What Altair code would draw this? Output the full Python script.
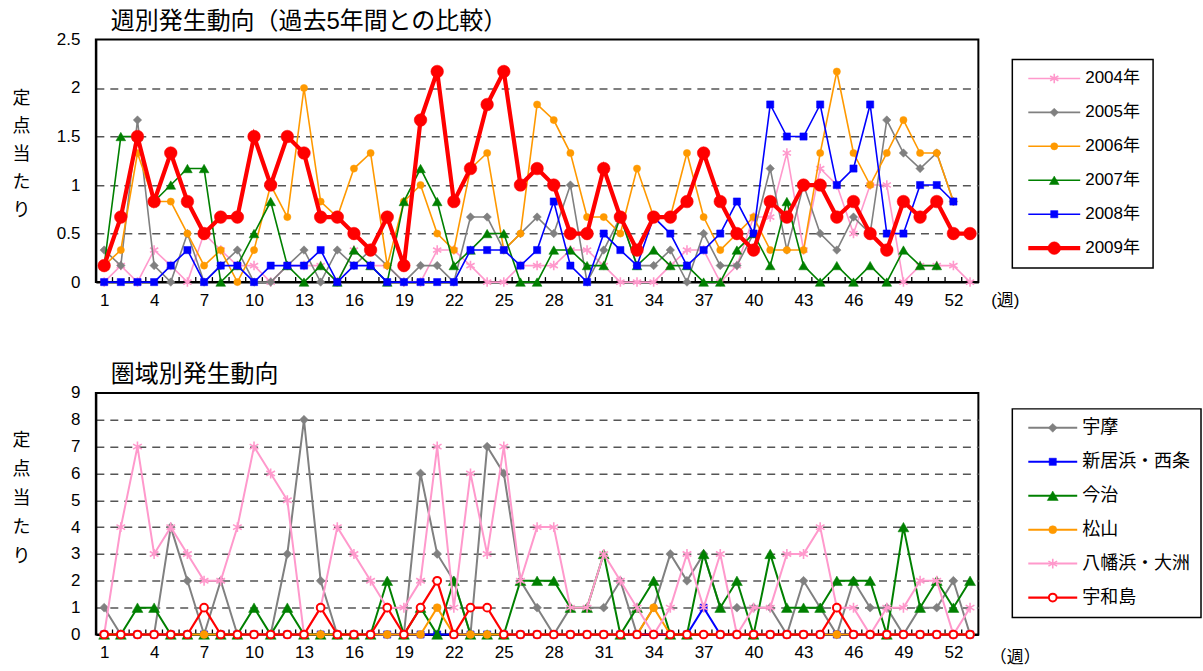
import altair as alt
import pandas as pd

WEEKS = list(range(1, 54))
LABEL_WEEKS = list(range(1, 53, 3))
BOUNDARIES = [w + 0.5 for w in WEEKS[:-1]]

# 週別発生動向: 定点当たり報告数 (2004-2009年)
Y2004 = [0, 0.17, 0, 0.33, 0.17, 0, 0.5, 0.33, 0.17, 0.17, 0, 0.17, 0.17, 0.17, 0,
         0.33, 0.17, 0.17, 0, 0, 0.33, 0.33, 0.17, 0, 0, 0.17, 0.17, 0.17, 0.33, 0.33,
         0.17, 0, 0, 0, 0.17, 0.33, 0.33, 0, 0.17, 0.67, 0.67, 1.33, 0.33, 1.17, 1.0,
         0.5, 1.0, 1.0, 0, 0.17, 0.17, 0.17, 0]
Y2005 = [0.33, 0.17, 1.67, 0.17, 0, 0.5, 0, 0.17, 0.33, 0, 0, 0.17, 0.33, 0, 0.33,
         0.17, 0.33, 0.17, 0, 0.17, 0.17, 0, 0.67, 0.67, 0.33, 0.5, 0.67, 0.5, 1.0, 0,
         0.33, 0.67, 0.17, 0.17, 0.33, 0, 0.5, 0.17, 0.17, 0.5, 1.17, 0.33, 1.0, 0.5,
         0.33, 0.67, 0.5, 1.67, 1.33, 1.17, 1.33, 0.83]
Y2006 = [0.17, 0.33, 1.33, 0.83, 0.83, 0.5, 0.17, 0.33, 0, 0.33, 1.0, 0.67, 2.0, 0.83,
         0.67, 1.17, 1.33, 0.17, 0.83, 1.0, 0.5, 0.33, 1.17, 1.33, 0.33, 0.5, 1.83, 1.67,
         1.33, 0.67, 0.67, 0.5, 1.17, 0.67, 0.67, 1.33, 0.67, 0.33, 0.5, 0.67, 0.33, 0.33,
         0.33, 1.33, 2.17, 1.33, 1.0, 1.33, 1.67, 1.33, 1.33, 0.83]
Y2007 = [0.17, 1.5, 1.5, 0.83, 1.0, 1.17, 1.17, 0, 0.17, 0.5, 0.83, 0.17, 0, 0.17, 0,
         0.33, 0.17, 0, 0.83, 1.17, 0.83, 0.17, 0.33, 0.5, 0.5, 0, 0, 0.33, 0.33, 0.17,
         0.17, 0.67, 0.17, 0.33, 0.17, 0.17, 0, 0, 0.33, 0.5, 0.17, 0.83, 0.17, 0, 0.17,
         0, 0.17, 0, 0.33, 0.17, 0.17]
Y2008 = [0, 0, 0, 0, 0.17, 0.33, 0, 0.17, 0.17, 0, 0.17, 0.17, 0.17, 0.33, 0, 0.17,
         0.17, 0, 0, 0, 0, 0, 0.33, 0.33, 0.33, 0.17, 0.33, 0.83, 0.17, 0, 0.5, 0.33,
         0.17, 0.67, 0.5, 0.17, 0.33, 0.5, 0.83, 0.5, 1.83, 1.5, 1.5, 1.83, 1.0, 1.17,
         1.83, 0.5, 0.5, 1.0, 1.0, 0.83]
Y2009 = [0.17, 0.67, 1.5, 0.83, 1.33, 0.83, 0.5, 0.67, 0.67, 1.5, 1.0, 1.5, 1.33, 0.67,
         0.67, 0.5, 0.33, 0.67, 0.17, 1.67, 2.17, 0.83, 1.17, 1.83, 2.17, 1.0, 1.17, 1.0,
         0.5, 0.5, 1.17, 0.67, 0.33, 0.67, 0.67, 0.83, 1.33, 0.83, 0.5, 0.33, 0.83, 0.67,
         1.0, 1.0, 0.67, 0.83, 0.5, 0.33, 0.83, 0.67, 0.83, 0.5, 0.5]

# 圏域別発生動向 (2009年)
UMA = [1, 0, 0, 0, 4, 2, 0, 2, 0, 0, 0, 3, 8, 2, 0, 0, 0, 0, 0, 6, 3, 2, 0, 7, 6, 2,
       1, 0, 1, 1, 1, 2, 0, 1, 3, 2, 3, 1, 1, 1, 1, 0, 2, 1, 0, 2, 1, 1, 0, 1, 1, 2, 0]
NIIHAMA_SAIJO = [0] * 36 + [1] + [0] * 16
IMABARI = [0, 0, 1, 1, 0, 0, 0, 0, 0, 1, 0, 1, 0, 0, 0, 0, 0, 2, 0, 1, 0, 2, 0, 0, 0, 2,
           2, 2, 1, 1, 3, 0, 1, 2, 0, 0, 3, 1, 2, 0, 3, 1, 1, 1, 2, 2, 2, 0, 4, 1, 2, 1, 2]
MATSUYAMA = [0] * 20 + [1] + [0] * 12 + [1] + [0] * 19
YAWATAHAMA_OZU = [0, 4, 7, 3, 4, 3, 2, 2, 4, 7, 6, 5, 0, 1, 4, 3, 2, 1, 1, 2, 7, 1, 6, 3,
                  7, 2, 4, 4, 1, 1, 3, 2, 1, 0, 1, 3, 1, 3, 0, 1, 1, 3, 3, 4, 1, 1, 0, 1,
                  1, 2, 2, 0, 1]
UWAJIMA = [0, 0, 0, 0, 0, 0, 1, 0, 0, 0, 0, 0, 0, 1, 0, 0, 0, 1, 0, 1, 2, 0, 1, 1, 0, 0,
           0, 0, 0, 0, 0, 0, 0, 0, 0, 0, 0, 0, 0, 0, 0, 0, 0, 0, 1, 0, 0, 0, 0, 0, 0, 0, 0]

FONT = "Liberation Sans, Noto Sans CJK JP, sans-serif"
ASTERISK = "M0,-1L0,1M-0.87,-0.5L0.87,0.5M-0.87,0.5L0.87,-0.5"

PINK, GRAY, ORANGE = "#FF99CC", "#808080", "#FF9900"
GREEN, BLUE, RED = "#008000", "#0000FF", "#FF0000"

# (name, values, colour, marker shape, marker size, line width, marker style)
TOP_SERIES = [
    ("2004年", Y2004, PINK, ASTERISK, 90, 1.6, "stroke"),
    ("2005年", Y2005, GRAY, "diamond", 72, 1.6, "fill"),
    ("2006年", Y2006, ORANGE, "circle", 52, 1.6, "fill"),
    ("2007年", Y2007, GREEN, "triangle-up", 95, 1.6, "fill"),
    ("2008年", Y2008, BLUE, "square", 52, 1.6, "fill"),
    ("2009年", Y2009, RED, "circle", 160, 4.2, "fill"),
]
BOTTOM_SERIES = [
    ("宇摩", UMA, GRAY, "diamond", 80, 2, "fill"),
    ("新居浜・西条", NIIHAMA_SAIJO, BLUE, "square", 52, 2, "fill"),
    ("今治", IMABARI, GREEN, "triangle-up", 120, 2, "fill"),
    ("松山", MATSUYAMA, ORANGE, "circle", 64, 2, "fill"),
    ("八幡浜・大洲", YAWATAHAMA_OZU, PINK, ASTERISK, 100, 2, "stroke"),
    ("宇和島", UWAJIMA, RED, "circle", 60, 2.2, "open"),
]

PLOT_W = 884
X_SCALE = alt.Scale(domain=[0.5, 53.5], nice=False, zero=False)


def marker_props(color, shape, size, style):
    props = dict(shape=shape, size=size, opacity=1)
    if style == "fill":
        props.update(filled=True, fill=color, stroke=color, strokeWidth=0.5)
    elif style == "stroke":
        props.update(filled=False, stroke=color, strokeWidth=1.6)
    else:
        props.update(filled=True, fill="white", stroke=color, strokeWidth=2)
    return props


def panel(series, y_ticks, height, title, week_label, week_xy,
          y_title_top, y_title_step, legend_box, legend_first, legend_step,
          legend_line, legend_text_x, legend_font):
    y_max = y_ticks[-1]
    x_axis = alt.Axis(values=LABEL_WEEKS, ticks=False, grid=False, title=None,
                      domainColor="black", domainWidth=2, labelFontSize=17,
                      labelColor="black", labelPadding=10, labelFont=FONT,
                      labelFlush=False)
    y_axis = alt.Axis(values=y_ticks, format="~g", ticks=False, domainColor="black",
                      domainWidth=2, labelFontSize=17, labelColor="black",
                      labelPadding=16, labelFont=FONT,
                      grid=True, gridColor="#555555", gridDash=[8, 6], gridWidth=1.5,
                      gridOpacity={"condition": {"test": f"datum.value == 0 || datum.value == {y_max}",
                                                 "value": 0}, "value": 1},
                      title=list("定点当たり"), titleAngle=0, titleAlign="center",
                      titleBaseline="top", titleX=-75, titleY=y_title_top,
                      titleFontSize=18, titleFontWeight="normal", titleColor="black",
                      titleLineHeight=y_title_step, titleFont=FONT)
    y_scale = alt.Scale(domain=[0, y_max], nice=False, zero=True)

    layers = []
    # inward tick marks between weeks
    layers.append(
        alt.Chart(pd.DataFrame({"b": BOUNDARIES})).mark_rule(color="black", strokeWidth=1.3)
        .encode(x=alt.X("b:Q", scale=X_SCALE, axis=x_axis),
                y=alt.value(height), y2=alt.value(height - 5))
    )
    for name, values, color, shape, size, lw, style in series:
        df = pd.DataFrame({"week": WEEKS[:len(values)], "value": values})
        base = alt.Chart(df).encode(
            x=alt.X("week:Q", scale=X_SCALE, axis=x_axis),
            y=alt.Y("value:Q", scale=y_scale, axis=y_axis),
        )
        layers.append(base.mark_line(color=color, strokeWidth=lw))
        layers.append(base.mark_point(**marker_props(color, shape, size, style)))

    # legend
    one = pd.DataFrame({"k": [0]})
    bx0, bx1, by0, by1 = legend_box
    layers.append(
        alt.Chart(one).mark_rect(fill="white", stroke="black", strokeWidth=1.5)
        .encode(x=alt.value(bx0), x2=alt.value(bx1), y=alt.value(by0), y2=alt.value(by1))
    )
    lx0, lx1 = legend_line
    for i, (name, values, color, shape, size, lw, style) in enumerate(series):
        ly = legend_first + i * legend_step
        item = alt.Chart(pd.DataFrame({"series": [name]}))
        layers.append(item.mark_rule(color=color, strokeWidth=lw)
                      .encode(x=alt.value(lx0), x2=alt.value(lx1), y=alt.value(ly)))
        layers.append(item.mark_point(**marker_props(color, shape, size, style))
                      .encode(x=alt.value((lx0 + lx1) / 2), y=alt.value(ly)))
        layers.append(item.mark_text(align="left", baseline="middle", fontSize=legend_font,
                                     font=FONT, color="black")
                      .encode(x=alt.value(legend_text_x), y=alt.value(ly), text="series:N"))

    # panel title and week unit
    layers.append(
        alt.Chart(one).mark_text(align="left", baseline="middle", fontSize=24, font=FONT,
                                 color="black")
        .encode(x=alt.value(15), y=alt.value(-18), text=alt.value(title))
    )
    layers.append(
        alt.Chart(one).mark_text(align="center", baseline="middle", fontSize=17, font=FONT,
                                 color="black")
        .encode(x=alt.value(week_xy[0]), y=alt.value(week_xy[1]), text=alt.value(week_label))
    )
    return alt.layer(*layers).properties(width=PLOT_W, height=height)


top = panel(TOP_SERIES, [0, 0.5, 1, 1.5, 2, 2.5], 243,
            "週別発生動向（過去5年間との比較）", "(週)", (911, 262),
            50, 28, (918, 1059, 20, 229), 39, 34, (934, 986), 991, 17)
bottom = panel(BOTTOM_SERIES, list(range(0, 10)), 242,
               "圏域別発生動向", "（週）", (921, 266),
               39, 29, (918, 1107, 16, 225), 35, 34, (934, 983), 988, 18)

chart = alt.vconcat(top, bottom, spacing=52,
                    padding={"left": 11, "top": 8, "right": 0, "bottom": 0},
                    background="white").configure_view(stroke="black", strokeWidth=2)

chart.save("out.html", embed_options={"renderer": "svg", "actions": False})
